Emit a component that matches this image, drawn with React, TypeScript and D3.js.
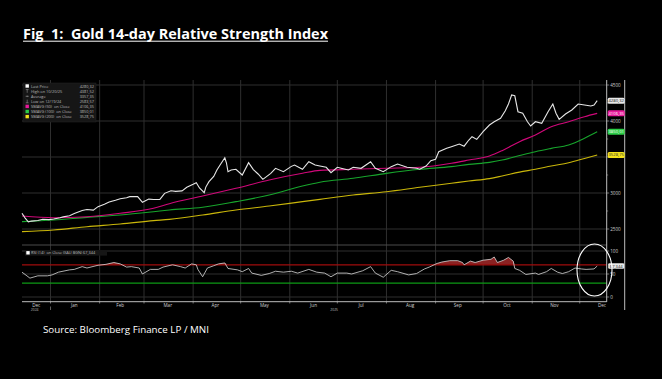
import React from "react";
import * as d3 from "d3";

// ---------- DATA ----------
const priceDates = [
  "2024-12-14","2024-12-16","2024-12-18","2024-12-20","2024-12-24","2024-12-27","2024-12-31",
  "2025-01-03","2025-01-07","2025-01-09","2025-01-13","2025-01-16","2025-01-21","2025-01-24","2025-01-28","2025-01-31",
  "2025-02-04","2025-02-07","2025-02-11","2025-02-14","2025-02-18","2025-02-20","2025-02-25","2025-02-28",
  "2025-03-04","2025-03-07","2025-03-11","2025-03-14","2025-03-18","2025-03-21","2025-03-25","2025-03-28",
  "2025-04-01","2025-04-03","2025-04-05","2025-04-08","2025-04-09","2025-04-11","2025-04-14","2025-04-16","2025-04-18","2025-04-21","2025-04-22","2025-04-23","2025-04-25","2025-04-28",
  "2025-05-02","2025-05-06","2025-05-09","2025-05-12","2025-05-15","2025-05-20","2025-05-23","2025-05-28",
  "2025-06-02","2025-06-04","2025-06-09","2025-06-13","2025-06-17","2025-06-20","2025-06-24","2025-06-27",
  "2025-07-01","2025-07-04","2025-07-08","2025-07-11","2025-07-16","2025-07-22","2025-07-25","2025-07-30",
  "2025-08-04","2025-08-08","2025-08-14","2025-08-20","2025-08-22","2025-08-26","2025-08-29",
  "2025-09-01","2025-09-03","2025-09-08","2025-09-11","2025-09-16","2025-09-19","2025-09-22","2025-09-24","2025-09-27",
  "2025-10-01","2025-10-05","2025-10-08","2025-10-12","2025-10-15","2025-10-17","2025-10-19","2025-10-21","2025-10-23","2025-10-26","2025-10-29","2025-10-31",
  "2025-11-03","2025-11-07","2025-11-11","2025-11-14","2025-11-16","2025-11-18","2025-11-22","2025-11-26","2025-11-30",
  "2025-12-04","2025-12-08","2025-12-10","2025-12-12",
];
const priceValues = [
  2718,2652,2600,2610,2618,2635,2630,
  2640,2657,2668,2685,2715,2758,2770,2762,2810,
  2845,2875,2900,2921,2935,2949,2950,2870,
  2915,2910,2912,2995,3032,3023,3030,3079,
  3120,3143,3070,3004,3082,3157,3230,3319,3389,3490,3420,3296,3320,3329,
  3250,3421,3325,3264,3190,3273,3343,3296,
  3370,3389,3330,3435,3389,3375,3357,3282,
  3357,3340,3319,3357,3343,3435,3343,3296,
  3366,3403,3357,3343,3330,3375,3448,
  3468,3574,3621,3643,3681,3650,3736,3782,3745,
  3851,3944,3990,4037,4143,4236,4361,4350,4129,4107,3990,3931,
  3990,3968,4129,4236,4107,4023,4097,4153,4236,
  4222,4208,4222,4282,
];

const smaDates = [
  "2024-12-14","2025-01-03","2025-01-24","2025-02-14","2025-03-07","2025-03-17","2025-04-07","2025-04-28",
  "2025-05-19","2025-06-09","2025-06-20","2025-07-11","2025-08-01","2025-08-22","2025-09-11","2025-09-22",
  "2025-10-05","2025-10-13","2025-10-24","2025-11-03","2025-11-13","2025-11-24","2025-12-04","2025-12-12",
];
const sma50 = [2681,2657,2671,2718,2787,2852,2958,3065,3181,3274,3314,3329,3343,3357,3413,3458,3514,3588,3713,3806,3921,3990,4060,4106];
const sma100 = [2602,2625,2662,2694,2740,2764,2801,2880,2972,3097,3150,3204,3273,3329,3366,3398,3425,3458,3520,3574,3620,3667,3760,3850];
const sma200 = [2463,2486,2532,2569,2616,2634,2694,2764,2819,2880,2912,2972,3018,3079,3135,3167,3200,3236,3290,3329,3375,3421,3480,3528];

const rsiDates = [
  "2024-12-14","2024-12-19","2024-12-24","2024-12-30",
  "2025-01-02","2025-01-06","2025-01-13","2025-01-16","2025-01-21","2025-01-24","2025-01-31",
  "2025-02-05","2025-02-10","2025-02-14","2025-02-18","2025-02-21","2025-02-26","2025-02-28",
  "2025-03-05","2025-03-10","2025-03-13","2025-03-19","2025-03-24","2025-03-27","2025-03-31",
  "2025-04-03","2025-04-04","2025-04-07","2025-04-10","2025-04-14","2025-04-17","2025-04-21","2025-04-23","2025-04-29",
  "2025-05-02","2025-05-06","2025-05-08","2025-05-14","2025-05-19","2025-05-23","2025-05-28",
  "2025-06-02","2025-06-06","2025-06-13","2025-06-18","2025-06-23","2025-06-27",
  "2025-07-01","2025-07-07","2025-07-10","2025-07-17","2025-07-22","2025-07-25","2025-07-30",
  "2025-08-04","2025-08-08","2025-08-15","2025-08-20","2025-08-25","2025-08-28",
  "2025-09-02","2025-09-05","2025-09-10","2025-09-15","2025-09-18","2025-09-19","2025-09-23","2025-09-26",
  "2025-10-01","2025-10-06","2025-10-08","2025-10-10","2025-10-14","2025-10-17","2025-10-20","2025-10-21","2025-10-24","2025-10-28",
  "2025-11-03","2025-11-05","2025-11-10","2025-11-13","2025-11-17","2025-11-20","2025-11-24","2025-11-28",
  "2025-12-02","2025-12-05","2025-12-10","2025-12-12",
];
const rsiValues = [
  54,41,46,46,
  48,54,59,60,66,63,69,
  71,75,72,65,66,63,50,
  60,60,65,70,66,63,72,
  70,60,44,63,68,72,74,62,59,
  55,62,52,47,51,56,54,
  56,52,60,54,52,44,
  52,52,50,57,66,52,43,
  58,55,48,51,61,65,
  73,76,79,79,75,70,78,75,
  80,82,87,75,80,86,78,62,58,49,
  52,49,55,62,54,51,55,63,
  61,60,61,67.344,
];

const monthStarts = [
  "2025-01-01","2025-02-01","2025-03-01","2025-04-01","2025-05-01","2025-06-01",
  "2025-07-01","2025-08-01","2025-09-01","2025-10-01","2025-11-01","2025-12-01",
];
const monthLabelDates = [
  "2024-12-23","2025-01-16","2025-02-14","2025-03-16","2025-04-15","2025-05-16","2025-06-16",
  "2025-07-16","2025-08-16","2025-09-15","2025-10-16","2025-11-15","2025-12-15",
];
const monthLabels = ["Dec","Jan","Feb","Mar","Apr","May","Jun","Jul","Aug","Sep","Oct","Nov","Dec"];
const yearLabelDates = ["2024-12-22","2025-06-29"];
const yearLabels = ["2024","2025"];

const priceTicks = [2500, 3000, 3500, 4000, 4500];
const priceLabelTicks = [2500, 3000, 4000, 4500]; // 3500 sits behind the SMA200 tag
const priceMinorTicks = [2750, 3250, 3750, 4250];
const rsiTicks = [0, 50, 100];
const rsiLevels = [70, 30];

const legendLabels = [
  "Last Price", "High on 10/20/25", "Average", "Low on 12/19/24",
  "SMAVG (50)  on Close", "SMAVG (100)  on Close", "SMAVG (200)  on Close",
];
const legendValues = ["4280,32", "4381,52", "3357,35", "2583,57", "4106,35", "3850,01", "3528,75"];
const tagValues = [4280.32, 4106.35, 3850.01, 3528.75];
const tagLabels = ["4280,32", "4106,35", "3850,01", "3528,75"];
const rsiLast = 67.344;
const rsiLastLabel = "67,344";

// ---------- STYLE ----------
const C_PRICE = "#e6e6e6";
const C_SMA50 = "#d1087a";
const C_SMA100 = "#17a52c";
const C_SMA200 = "#c9b60a";
const TAG_FILLS = ["#e8e8e8", "#e8189a", "#2bcc46", "#f2e21a"];
const TAG_TEXT = ["#111", "#fff", "#fff", "#333"];
const LEGEND_ICON = ["#ffffff", null, null, null, "#e8189a", "#2bcc46", "#f2e21a"];
const GRID = "#2f2f2f";
const FONT = "'Open Sans', 'Liberation Sans', Arial, sans-serif";

const parse = d3.timeParse("%Y-%m-%d");

export default function App() {
  const x = d3.scaleTime()
    .domain([parse("2024-12-14")!, parse("2025-12-18")!])
    .range([22, 606.7]);
  const yP = d3.scaleLinear().domain([2500, 4500]).range([229, 85]);
  const yR = d3.scaleLinear().domain([0, 100]).range([297, 251]);

  const priceData = priceDates.map((d, i) => ({ d: parse(d)!, v: priceValues[i] }));
  const rsiData = rsiDates.map((d, i) => ({ d: parse(d)!, v: rsiValues[i] }));
  const smaD = smaDates.map((d) => parse(d)!);

  const line = d3.line<{ d: Date; v: number }>().x((p) => x(p.d)).y((p) => yP(p.v));
  const smaLine = (vals: number[]) =>
    d3.line<number>().x((_, i) => x(smaD[i])).y((v) => yP(v)).curve(d3.curveMonotoneX)(vals) || "";
  const rsiLine = d3.line<{ d: Date; v: number }>().x((p) => x(p.d)).y((p) => yR(p.v));
  const rsiArea = d3.area<{ d: Date; v: number }>()
    .x((p) => x(p.d))
    .y0(yR(70))
    .y1((p) => yR(Math.max(p.v, 70)));

  const xL = 22, xR = 606.7, xFrame = 624.7;

  return (
    <svg width={662} height={379} style={{ position: "absolute", left: 0, top: 0, background: "#000" }}
      fontFamily={FONT}>
      <rect x={0} y={0} width={662} height={379} fill="#000" />

      {/* title */}
      <text x={23} y={39} fill="#fff" fontSize={13.5} fontWeight={700} textLength={305}
        lengthAdjust="spacingAndGlyphs" style={{ whiteSpace: "pre" }}>{"Fig  1:  Gold 14-day Relative Strength Index"}</text>
      <line x1={23} x2={328} y1={41.2} y2={41.2} stroke="#fff" strokeWidth={1} />

      {/* price panel grid */}
      {priceTicks.map((t) => (
        <line key={"pg" + t} x1={xL} x2={xR} y1={yP(t)} y2={yP(t)} stroke={GRID} strokeWidth={1} />
      ))}
      {monthStarts.map((m) => (
        <line key={"vg" + m} x1={x(parse(m)!)} x2={x(parse(m)!)} y1={80} y2={302} stroke={GRID} strokeWidth={1} />
      ))}

      {/* SMA lines */}
      <path d={smaLine(sma200)} fill="none" stroke={C_SMA200} strokeWidth={1.1} />
      <path d={smaLine(sma100)} fill="none" stroke={C_SMA100} strokeWidth={1.1} />
      <path d={smaLine(sma50)} fill="none" stroke={C_SMA50} strokeWidth={1.1} />

      {/* price */}
      <path d={line(priceData) || ""} fill="none" stroke={C_PRICE} strokeWidth={1.1} strokeLinejoin="miter" />

      {/* legend */}
      <rect x={23} y={83} width={73} height={39} fill="#161616" stroke="#262626" strokeWidth={0.5} />
      {legendLabels.map((l, i) => {
        const yy = 87.5 + i * 5.1;
        const icon = LEGEND_ICON[i];
        return (
          <g key={"lg" + i}>
            {icon ? (
              <rect x={25.5} y={yy - 3.2} width={3.4} height={3.4} fill={icon} />
            ) : i === 1 ? (
              <path d={`M25.8 ${yy - 3} H28.6 M27.2 ${yy - 3} V${yy + 0.2}`} stroke="#aaa" strokeWidth={0.5} />
            ) : i === 2 ? (
              <path d={`M25.6 ${yy - 1.4} H28.8 M27.2 ${yy - 2.2} V${yy - 0.6}`} stroke="#aaa" strokeWidth={0.5} />
            ) : (
              <path d={`M25.8 ${yy} H28.6 M27.2 ${yy} V${yy - 3.2}`} stroke="#aaa" strokeWidth={0.5} />
            )}
            <text x={31} y={yy} fill="#bdbdbd" fontSize={3.9} style={{ whiteSpace: "pre" }}>{l}</text>
            <text x={94} y={yy} fill="#bdbdbd" fontSize={3.9} textAnchor="end">{legendValues[i]}</text>
          </g>
        );
      })}

      {/* RSI panel */}
      <line x1={xL} x2={xR} y1={245} y2={245} stroke="#4a4a4a" strokeWidth={1} />
      {rsiTicks.map((t) => (
        <line key={"rg" + t} x1={xL} x2={xR} y1={yR(t)} y2={yR(t)} stroke={GRID} strokeWidth={1} />
      ))}
      <path d={rsiArea(rsiData) || ""} fill="#8a2222" />
      <line x1={xL} x2={xR} y1={yR(rsiLevels[0])} y2={yR(rsiLevels[0])} stroke="#a00d0d" strokeWidth={1.3} />
      <line x1={xL} x2={xR} y1={yR(rsiLevels[1])} y2={yR(rsiLevels[1])} stroke="#0d9a14" strokeWidth={1.3} />
      <path d={rsiLine(rsiData) || ""} fill="none" stroke="#d8d8d8" strokeWidth={0.8} />

      <rect x={25} y={250} width={82} height={5.6} fill="#161616" />
      <rect x={26.3} y={251.1} width={3.4} height={3.4} fill="#fff" />
      <text x={31} y={254.4} fill="#bdbdbd" fontSize={3.9} style={{ whiteSpace: "pre" }}>{"RSI (14)  on Close (XAU BGN) " + rsiLastLabel}</text>

      {/* bottom axis */}
      <line x1={xL} x2={xR} y1={301.7} y2={301.7} stroke="#bdbdbd" strokeWidth={1} />
      {monthStarts.map((m) => (
        <line key={"mt" + m} x1={x(parse(m)!)} x2={x(parse(m)!)} y1={301.7} y2={303.5} stroke="#bdbdbd" strokeWidth={0.6} />
      ))}
      {monthLabelDates.map((m, i) => (
        <text key={"ml" + i} x={x(parse(m)!)} y={306.5} fill="#d0d0d0" fontSize={4.6} textAnchor="middle">{monthLabels[i]}</text>
      ))}
      {yearLabelDates.map((m, i) => (
        <text key={"yl" + i} x={x(parse(m)!)} y={311} fill="#bdbdbd" fontSize={3.4} textAnchor="middle">{yearLabels[i]}</text>
      ))}
      <line x1={x(parse(monthStarts[0])!)} x2={x(parse(monthStarts[0])!)} y1={306.5} y2={310} stroke="#bdbdbd" strokeWidth={0.5} />

      {/* right axis */}
      <line x1={xR} x2={xR} y1={80} y2={302} stroke="#bdbdbd" strokeWidth={1} />
      <line x1={xFrame} x2={xFrame} y1={80} y2={310} stroke="#bdbdbd" strokeWidth={1} />
      {priceTicks.map((t) => (
        <line key={"ptk" + t} x1={xR} x2={xR + 2.5} y1={yP(t)} y2={yP(t)} stroke="#bdbdbd" strokeWidth={0.6} />
      ))}
      {priceLabelTicks.map((t) => (
        <text key={"pt" + t} x={xR + 3.5} y={yP(t) + 1.6} fill="#cfcfcf" fontSize={4.6}>{t}</text>
      ))}
      {priceMinorTicks.map((t) => (
        <line key={"pm" + t} x1={xR} x2={xR + 1.5} y1={yP(t)} y2={yP(t)} stroke="#bdbdbd" strokeWidth={0.5} />
      ))}
      {rsiTicks.map((t) => (
        <g key={"rt" + t}>
          <line x1={xR} x2={xR + 2.5} y1={yR(t)} y2={yR(t)} stroke="#bdbdbd" strokeWidth={0.6} />
          <text x={xR + 3.5} y={yR(t) + 1.6} fill="#cfcfcf" fontSize={4.6}>{t}</text>
        </g>
      ))}

      {/* value tags */}
      {tagValues.map((v, i) => (
        <g key={"tag" + i}>
          <rect x={xR + 1} y={yP(v) - 3} width={17} height={6} rx={1.5} fill={TAG_FILLS[i]} />
          <text x={xR + 9.5} y={yP(v) + 1.5} fill={TAG_TEXT[i]} fontSize={4.2} textAnchor="middle">{tagLabels[i]}</text>
        </g>
      ))}
      <g>
        <rect x={xR + 1.5} y={yR(rsiLast) - 2.8} width={16} height={5.6} rx={1.2} fill="#eaeaea" />
        <text x={xR + 9.5} y={yR(rsiLast) + 1.5} fill="#111" fontSize={4.1} textAnchor="middle">{rsiLastLabel}</text>
      </g>

      {/* annotation circle */}
      <ellipse cx={594.5} cy={270} rx={17.5} ry={26} fill="none" stroke="#fff" strokeWidth={1.1} />

      {/* source */}
      <text x={43} y={333} fill="#fff" fontSize={9} textLength={166} lengthAdjust="spacingAndGlyphs">Source: Bloomberg Finance LP / MNI</text>
    </svg>
  );
}
